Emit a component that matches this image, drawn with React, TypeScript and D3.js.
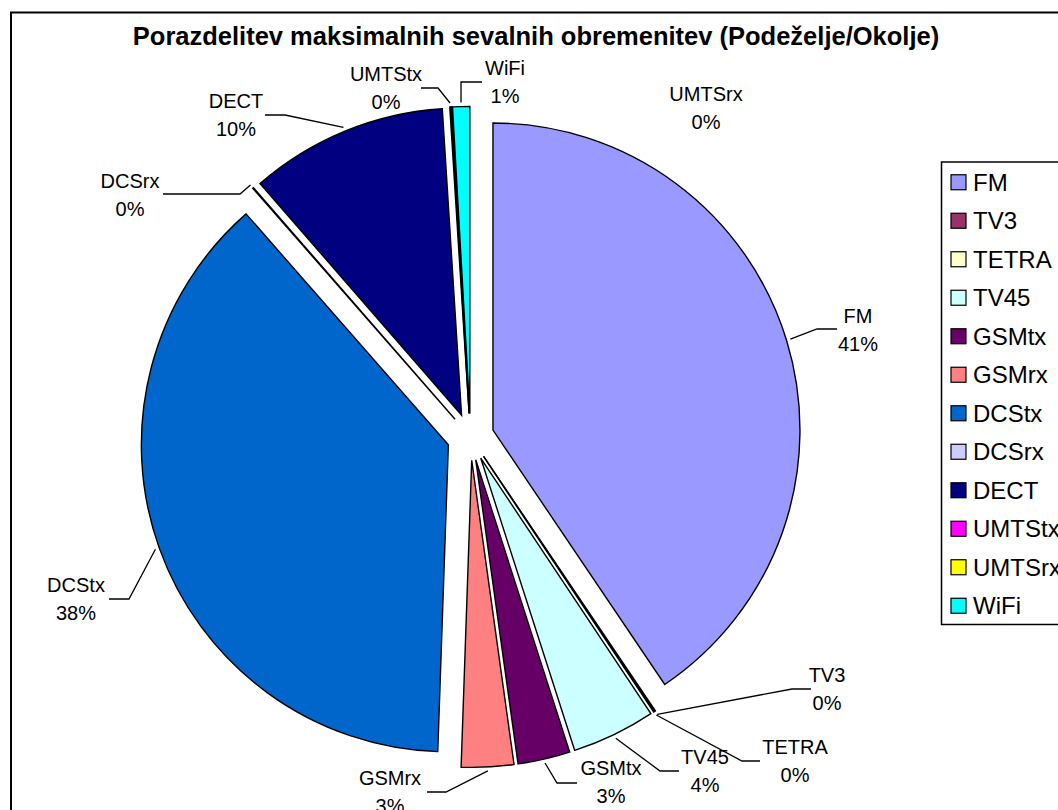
import React, { useEffect, useRef } from 'react';
import * as d3 from 'd3';

// data (shares in %)
const categories = ['FM', 'TV3', 'TETRA', 'TV45', 'GSMtx', 'GSMrx', 'DCStx', 'DCSrx', 'DECT', 'UMTStx', 'UMTSrx', 'WiFi'];
const shares = [40.55, 0.05, 0.05, 4.4, 2.75, 2.75, 38.0, 0.05, 10.4, 0.05, 0.05, 0.9];
const colors = ['#9999FF', '#993366', '#FFFFCC', '#CCFFFF', '#660066', '#FF8080', '#0066CC', '#CCCCFF', '#000080', '#FF00FF', '#FFFF00', '#00FFFF'];

const title = 'Porazdelitev maksimalnih sevalnih obremenitev (Podeželje/Okolje)';

// manual label placement (like the dragged Excel labels)
const labelLayout: Record<string, { cx: number; cy: number; leader?: [number, number][] }> = {
  FM: { cx: 858, cy: 330, leader: [[817, 329], [837, 329]] },
  TV3: { cx: 827, cy: 689, leader: [[792, 689], [811, 689]] },
  TETRA: { cx: 795, cy: 761, leader: [[742, 761], [760, 761]] },
  TV45: { cx: 705, cy: 771, leader: [[660, 771], [679, 771]] },
  GSMtx: { cx: 611, cy: 782, leader: [[557, 783], [577, 783]] },
  GSMrx: { cx: 390, cy: 792, leader: [[446, 792], [427, 792]] },
  DCStx: { cx: 76, cy: 599, leader: [[129, 599], [109, 599]] },
  DCSrx: { cx: 130, cy: 195, leader: [[240, 194], [163, 194]] },
  DECT: { cx: 236, cy: 115, leader: [[285, 115], [265, 115]] },
  UMTStx: { cx: 386, cy: 88, leader: [[438, 88], [421, 88]] },
  UMTSrx: { cx: 706, cy: 108 },
  WiFi: { cx: 505, cy: 82, leader: [[461, 82], [482, 82]] },
};

const App: React.FC = () => {
  const ref = useRef<SVGSVGElement>(null);

  useEffect(() => {
    const svg = d3.select(ref.current);
    svg.selectAll('*').remove();

    const width = 1058;
    const height = 810;
    const cx = 470.5;
    const cy = 436.9;
    const radius = 307;
    const explode = 23.5;
    const font = 'Arial, "Liberation Sans", sans-serif';

    svg.append('rect').attr('width', width).attr('height', height).attr('fill', '#fff');

    // outer chart frame
    svg.append('rect')
      .attr('x', 11).attr('y', 12.5)
      .attr('width', 1080).attr('height', 830)
      .attr('fill', '#fff').attr('stroke', '#000').attr('stroke-width', 2);

    svg.append('text')
      .attr('x', 536).attr('y', 45)
      .attr('text-anchor', 'middle')
      .style('font-family', font)
      .style('font-size', '25.5px')
      .style('font-weight', 'bold')
      .text(title);

    const total = d3.sum(shares);
    const pie = d3.pie<number>().sort(null).value(d => d);
    const arcs = pie(shares);
    const arc = d3.arc<d3.PieArcDatum<number>>().innerRadius(0).outerRadius(radius);

    const offset = (a: d3.PieArcDatum<number>) => {
      const mid = (a.startAngle + a.endAngle) / 2;
      return [cx + explode * Math.sin(mid), cy - explode * Math.cos(mid)];
    };

    const slices = svg.append('g');
    slices.selectAll('path')
      .data(arcs)
      .enter()
      .append('path')
      .attr('transform', d => { const [x, y] = offset(d); return `translate(${x},${y})`; })
      .attr('d', arc)
      .attr('fill', (_, i) => colors[i])
      .attr('stroke', '#000')
      .attr('stroke-width', 1.4)
      .attr('stroke-linejoin', 'miter');

    // leader lines + data labels
    const line = d3.line();
    const labels = svg.append('g');
    arcs.forEach((a, i) => {
      const name = categories[i];
      const lay = labelLayout[name];
      if (!lay) return;
      if (lay.leader) {
        const [ox, oy] = offset(a);
        const mid = (a.startAngle + a.endAngle) / 2;
        const start: [number, number] = [ox + (radius + 4) * Math.sin(mid), oy - (radius + 4) * Math.cos(mid)];
        labels.append('path')
          .attr('d', line([start, ...lay.leader]))
          .attr('fill', 'none')
          .attr('stroke', '#000')
          .attr('stroke-width', 1.3);
      }
      const pct = Math.round((shares[i] / total) * 100) + '%';
      const t = labels.append('text')
        .attr('text-anchor', 'middle')
        .style('font-family', font)
        .style('font-size', '20px');
      t.append('tspan').attr('x', lay.cx).attr('y', lay.cy - 7).text(name);
      t.append('tspan').attr('x', lay.cx).attr('y', lay.cy + 21).text(pct);
    });

    // legend
    const lx = 941.5;
    const ly = 162;
    const step = 38.5;
    const legend = svg.append('g');
    legend.append('rect')
      .attr('x', lx).attr('y', ly)
      .attr('width', 140).attr('height', step * categories.length + 0.5)
      .attr('fill', '#fff').attr('stroke', '#000').attr('stroke-width', 1.5);

    const rows = legend.selectAll('g.row')
      .data(categories)
      .enter()
      .append('g')
      .attr('class', 'row')
      .attr('transform', (_, i) => `translate(${lx}, ${ly + step * i + step / 2 + 1})`);

    rows.append('rect')
      .attr('x', 9.5).attr('y', -7.5)
      .attr('width', 15).attr('height', 15)
      .attr('fill', (_, i) => colors[i])
      .attr('stroke', '#000').attr('stroke-width', 1.2);

    rows.append('text')
      .attr('x', 31.5).attr('y', 8.5)
      .style('font-family', font)
      .style('font-size', '24px')
      .text(d => d);
  }, []);

  return (
    <svg
      ref={ref}
      width={1058}
      height={810}
      style={{ position: 'absolute', left: 0, top: 0, display: 'block' }}
    />
  );
};

export default App;
